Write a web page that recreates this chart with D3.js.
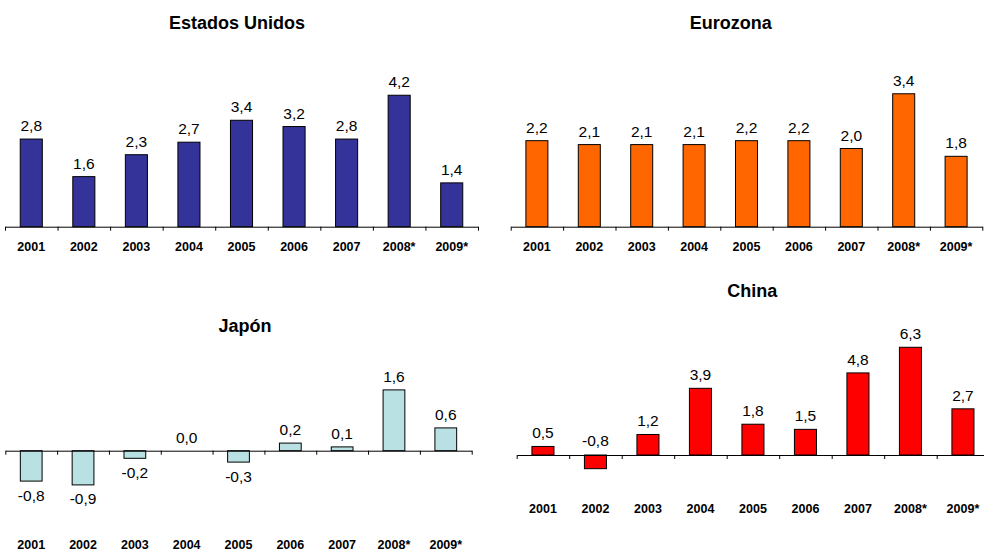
<!DOCTYPE html>
<html>
<head>
<meta charset="utf-8">
<script src="https://cdn.jsdelivr.net/npm/d3@7"></script>
<style>
  body { margin: 0; background: #fff; }
  svg { display: block; }
  text { font-family: "Liberation Sans", Arial, sans-serif; fill: #000; }
</style>
</head>
<body>
<svg id="chart" width="984" height="551"></svg>
<script>
// Growth data by region, 2001-2009 (* = estimate)
const years = ["2001", "2002", "2003", "2004", "2005", "2006", "2007", "2008*", "2009*"];
const titles = ["Estados Unidos", "Eurozona", "Japón", "China"];
const usValues = [2.8, 1.6, 2.3, 2.7, 3.4, 3.2, 2.8, 4.2, 1.4];
const euroValues = [2.2, 2.1, 2.1, 2.1, 2.2, 2.2, 2.0, 3.4, 1.8];
const japanValues = [-0.8, -0.9, -0.2, 0.0, -0.3, 0.2, 0.1, 1.6, 0.6];
const chinaValues = [0.5, -0.8, 1.2, 3.9, 1.8, 1.5, 4.8, 6.3, 2.7];
const barColors = ["#333399", "#FF6600", "#B9E0E2", "#FF0000"];

// Panel layout: plot extents, zero line, pixels per unit, title and label rows
const layout = [
  { x0: 5,     x1: 478,   zero: 226.7, unit: 31.3, titleX: 237,   titleY: 29.3,  yearY: 251,   negAbove: false },
  { x0: 510.7, x1: 982.3, zero: 226.7, unit: 39.1, titleX: 730.7, titleY: 29.3,  yearY: 251,   negAbove: false },
  { x0: 5.3,   x1: 471.7, zero: 450.7, unit: 38.0, titleX: 245,   titleY: 331.7, yearY: 549,   negAbove: false },
  { x0: 516.7, x1: 989.2, zero: 455,   unit: 17.1, titleX: 752.3, titleY: 297.3, yearY: 513,   negAbove: true }
];
const seriesValues = [usValues, euroValues, japanValues, chinaValues];

const svg = d3.select("#chart");
// Spanish number style: decimal comma, plain hyphen for negatives
const esLocale = d3.formatLocale({ decimal: ",", thousands: ".", grouping: [3], currency: ["", " €"], minus: "-" });
const fmt = esLocale.format(".1f");

layout.forEach((p, i) => {
  const values = seriesValues[i];
  const data = years.map((y, j) => ({ year: y, value: values[j] }));
  const g = svg.append("g");

  const x = d3.scaleBand().domain(years).range([p.x0, p.x1])
    .paddingInner(0.58).paddingOuter(0.29);
  const y = d3.scaleLinear().domain([0, 5]).range([p.zero, p.zero - 5 * p.unit]);
  const boundaries = d3.scaleLinear().domain([0, years.length]).range([p.x0, p.x1]);

  // Title
  g.append("text")
    .attr("x", p.titleX).attr("y", p.titleY)
    .attr("text-anchor", "middle")
    .style("font-size", "18px").style("font-weight", "bold")
    .text(titles[i]);

  // Bars
  g.selectAll("rect.bar").data(data).join("rect")
    .attr("class", "bar")
    .attr("x", d => x(d.year))
    .attr("width", x.bandwidth())
    .attr("y", d => Math.min(y(d.value), y(0)))
    .attr("height", d => Math.abs(y(d.value) - y(0)))
    .attr("fill", barColors[i])
    .attr("stroke", "#000")
    .attr("stroke-width", 1);

  // Category axis along the zero line, ticks between categories
  const axis = d3.axisBottom(boundaries)
    .tickValues(d3.range(years.length + 1))
    .tickFormat("")
    .tickSize(4)
    .tickSizeOuter(0);
  const ax = g.append("g").attr("transform", `translate(0,${y(0)})`).call(axis);
  ax.select(".domain").attr("stroke", "#000");
  ax.selectAll(".tick line").attr("stroke", "#000");

  // Year labels
  g.selectAll("text.year").data(data).join("text")
    .attr("class", "year")
    .attr("x", d => x(d.year) + x.bandwidth() / 2)
    .attr("y", p.yearY)
    .attr("text-anchor", "middle")
    .style("font-size", "12.5px").style("font-weight", "bold")
    .text(d => d.year);

  // Value labels
  g.selectAll("text.val").data(data).join("text")
    .attr("class", "val")
    .attr("x", d => x(d.year) + x.bandwidth() / 2)
    .attr("y", d => {
      if (d.value >= 0) return y(d.value) - 8;
      if (p.negAbove) return y(0) - 9;
      return y(d.value) + 19.5;
    })
    .attr("text-anchor", "middle")
    .style("font-size", "15.5px")
    .text(d => fmt(d.value));
});
</script>
</body>
</html>
